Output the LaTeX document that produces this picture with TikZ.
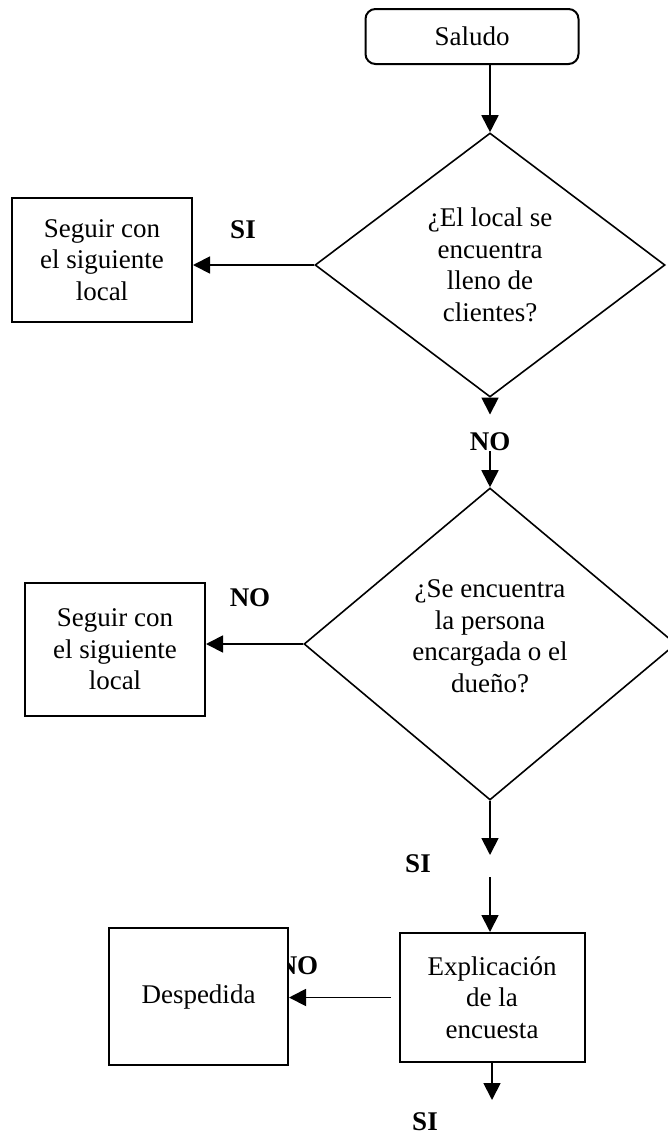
\documentclass[tikz,border=0pt]{standalone}
\usepackage{fontspec}
\setmainfont{Liberation Serif}
\usetikzlibrary{shapes.geometric,arrows.meta}
\newcommand{\letra}{\fontsize{13.5}{15.75}\selectfont}

\begin{document}
\begin{tikzpicture}[x=0.5pt,y=-0.5pt,
  >={Triangle[length=8.5pt,width=8.5pt]},
  caja/.style={draw, line width=1pt, fill=white, align=center, inner sep=0pt, font=\letra},
  decision/.style={draw, diamond, line width=0.8pt, fill=white, align=center, inner sep=0pt, font=\letra},
  etiqueta/.style={inner sep=0pt, font=\letra\bfseries},
  flecha/.style={->, line width=0.9pt}]
 \useasboundingbox (0,0) rectangle (668,1135);

	% Inicio
 \node[caja, rounded corners=5pt, minimum width=106.5pt, minimum height=27.5pt] (saludo) at (472,36.5) {Saludo};

	% Decisiones
 \node[decision, minimum width=175pt, minimum height=132pt] (dec1) at (490,265) {¿El local se\\encuentra\\lleno de\\clientes?};
 \node[decision, minimum width=186pt, minimum height=156pt] (dec2) at (490,644) {¿Se encuentra\\la persona\\encargada o el\\dueño?\\[-7.75pt]};

	% Etiquetas
 \node[etiqueta] (si1) at (243,230) {SI};
 \node[etiqueta] (no1) at (490,442) {NO};
 \node[etiqueta] (no2) at (250,598) {NO};
 \node[etiqueta] (si2) at (418,864) {SI};
 \node[etiqueta] (no3) at (298,966) {NO};
 \node[etiqueta] (si3) at (425,1122) {SI};

	% Cajas
 \node[caja, minimum width=90pt, minimum height=62pt] (seguir1) at (102,260) {Seguir con\\el siguiente\\local};
 \node[caja, minimum width=90pt, minimum height=66.5pt] (seguir2) at (115,649.5) {Seguir con\\el siguiente\\local};
 \node[caja, minimum width=92.5pt, minimum height=64.5pt] (expl) at (492,997.5) {Explicación\\de la\\encuesta};
 \node[caja, minimum width=89.5pt, minimum height=68.5pt] (desp) at (198.5,996.5) {Despedida};

 \coordinate (corte1) at (490,855);
 \coordinate (corte2) at (490,877);
 \coordinate (fin) at (492,1100);

	% Flechas
 \draw[flecha] (saludo.south -| dec1.north) -- (dec1.north);
 \draw[flecha] (dec1.west) -- (dec1.west -| seguir1.east);
 \draw[flecha, shorten >=9pt] (dec1.south) -- (no1.north);
 \draw[flecha] (no1.south) -- (dec2.north);
 \draw[flecha] (dec2.west) -- (dec2.west -| seguir2.east);
 \draw[flecha] (dec2.south) -- (corte1);
 \draw[flecha] (corte2) -- (corte2 |- expl.north);
 \draw[flecha, shorten <=4pt] (expl.west) -- (desp.east |- expl.west);
 \draw[flecha] (expl.south) -- (fin);

\end{tikzpicture}
\end{document}
